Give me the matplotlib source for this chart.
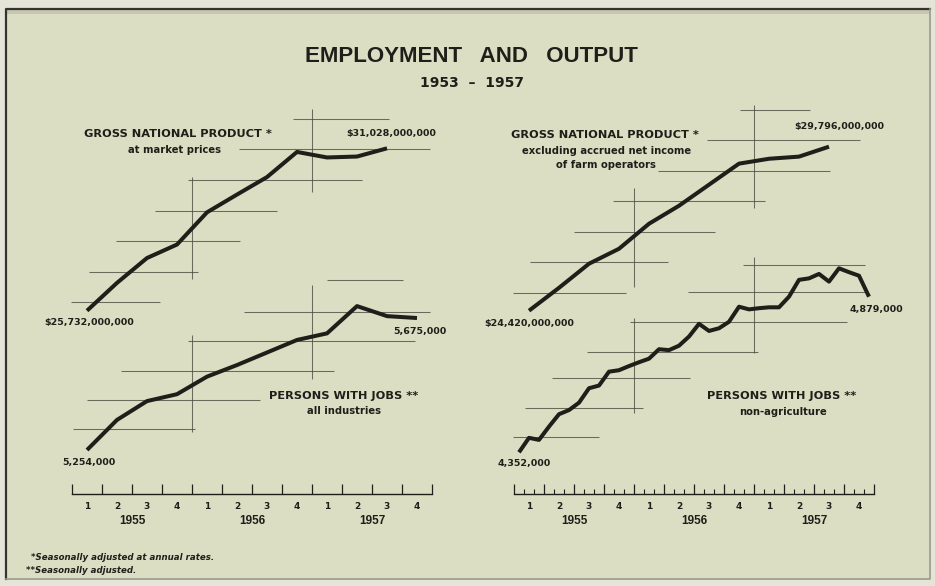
import numpy as np
import matplotlib.pyplot as plt
from matplotlib.patches import Rectangle
from matplotlib.lines import Line2D

W, H = 935, 586

# --------------------------------------------------------------
# Data (GNP in billions of dollars, persons in thousands)
# --------------------------------------------------------------
quarter_labels = ["1", "2", "3", "4"] * 3
year_labels = ["1955", "1956", "1957"]

gnp_market = [25.732, 26.64, 27.45, 27.89, 28.94, 29.52, 30.09, 30.91,
              30.73, 30.76, 31.028]
gnp_nonfarm = [24.42, 25.17, 25.96, 26.45, 27.27, 27.86, 28.55, 29.24,
               29.40, 29.47, 29.796]
jobs_all = [5254, 5350, 5410, 5432, 5488, 5525, 5565, 5605,
            5626, 5713, 5681, 5675]
jobs_nonag = [4352, 4401, 4394, 4439, 4481, 4495, 4520, 4569, 4578, 4625, 4630, 4644,
              4657, 4669, 4701, 4698, 4713, 4744, 4787, 4763, 4772, 4794, 4845, 4836,
              4840, 4843, 4843, 4879, 4936, 4941, 4956, 4930, 4975, 4962, 4950, 4879]

# reference crosshairs: (level, from quarter, to quarter) and (quarter, from level, to level)
gnp_market_h = [(26, -0.03, 2.93), (27, 0.58, 4.21), (28, 1.47, 5.6), (29, 2.77, 6.84),
                (30, 3.86, 9.66), (31, 5.57, 11.93), (32, 7.36, 10.58)]
gnp_market_v = [(4, 26.75, 30.1), (8, 29.6, 32.3)]
gnp_nonfarm_h = [(25, -0.02, 3.73), (26, 0.53, 5.14), (27, 2.0, 6.7), (28, 3.31, 8.37),
                 (29, 4.81, 10.53), (30, 6.42, 11.53), (31, 7.53, 9.87)]
gnp_nonfarm_v = [(4, 25.19, 28.43), (8, 27.78, 31.16)]
jobs_all_h = [(5320, 0.02, 4.1), (5413, 0.49, 6.27), (5506, 1.63, 8.73),
              (5602, 3.88, 11.43), (5695, 5.74, 11.93), (5796, 8.49, 11.04)]
jobs_all_v = [(4, 5312, 5621), (8, 5480, 5780)]
jobs_nonag_h = [(4405, -0.02, 2.84), (4503, 0.37, 4.31), (4605, 1.26, 5.87),
                (4693, 2.44, 8.14), (4794, 3.87, 11.09), (4894, 5.81, 11.76),
                (4986, 7.64, 11.7)]
jobs_nonag_v = [(4, 4484, 4806), (8, 4687, 5014)]

# --------------------------------------------------------------
# Style
# --------------------------------------------------------------
BG = "#dcdec3"
INK = "#1f1f1a"
GRID = "#4d4d42"
QPX = 30.0          # pixels per quarter
LEFT_X0, RIGHT_X0 = 72, 514
AXIS_Y = 493.5

fig = plt.figure(figsize=(W / 100, H / 100), dpi=100)
fig.patch.set_facecolor("#e4e4d8")


def fx(px):
    return px / W


def fy(py):
    return 1 - py / H


# scanned page frame: dark left/top edge, faint right/bottom edge
fig.patches.append(Rectangle((fx(6), fy(579)), 924 / W, 570 / H,
                             transform=fig.transFigure, facecolor=BG,
                             edgecolor="none", zorder=-3))
fig.patches.append(Rectangle((fx(7), fy(14)), 922 / W, 4 / H,
                             transform=fig.transFigure, facecolor="#c6c6b3",
                             edgecolor="none", zorder=-2))
fig.lines.append(Line2D([fx(6), fx(6), fx(930)], [fy(579), fy(9), fy(9)],
                        transform=fig.transFigure, color="#34342d", lw=1.6))
fig.lines.append(Line2D([fx(930), fx(930), fx(6)], [fy(9), fy(579), fy(579)],
                        transform=fig.transFigure, color="#9a9a8c", lw=1.2))


def overlay(x0, ref_val, ref_px, ppu):
    ax = fig.add_axes([0, 0, 1, 1])
    ax.set_xlim(-x0 / QPX, (W - x0) / QPX)
    ax.set_ylim(ref_val - (H - ref_px) / ppu, ref_val + ref_px / ppu)
    ax.axis("off")
    ax.patch.set_alpha(0)
    return ax


def draw_series(ax, x, vals, hgrid, vgrid):
    lv, a, b = zip(*hgrid)
    ax.hlines(lv, a, b, color=GRID, lw=0.75, alpha=0.8)
    qv, lo, hi = zip(*vgrid)
    ax.vlines(qv, lo, hi, color=GRID, lw=0.75, alpha=0.8)
    ax.plot(x, vals, color=INK, lw=2.9, solid_capstyle="butt",
            solid_joinstyle="round", zorder=3)


def value_label(ax, x, y, text, dx, dy):
    ax.annotate(text, (x, y), xytext=(dx, -dy), textcoords="offset pixels",
                ha="center", va="center", fontsize=6.8, fontweight="bold",
                color=INK, family="DejaVu Sans")


qx = np.arange(12) + 0.5
mx = (np.arange(36) + 0.5) / 3

# left: GNP at market prices and persons with jobs, all industries
ax_g1 = overlay(LEFT_X0, 25.732, 310.7, 30.66)
draw_series(ax_g1, qx[:len(gnp_market)], gnp_market, gnp_market_h, gnp_market_v)
value_label(ax_g1, qx[0], gnp_market[0], f"${gnp_market[0] * 1e9:,.0f}", 2, 12)
value_label(ax_g1, qx[len(gnp_market) - 1], gnp_market[-1],
            f"${gnp_market[-1] * 1e9:,.0f}", 4, -15)

ax_j1 = overlay(LEFT_X0, 5254, 450.0, 0.3135)
draw_series(ax_j1, qx, jobs_all, jobs_all_h, jobs_all_v)
value_label(ax_j1, qx[0], jobs_all[0], f"{jobs_all[0] * 1000:,}", 2, 13)
value_label(ax_j1, qx[-1], jobs_all[-1], f"{jobs_all[-1] * 1000:,}", 3, 13)

# right: GNP excluding farm income and persons with jobs, non-agriculture
ax_g2 = overlay(RIGHT_X0, 24.42, 310.7, 30.51)
draw_series(ax_g2, qx[:len(gnp_nonfarm)], gnp_nonfarm, gnp_nonfarm_h, gnp_nonfarm_v)
value_label(ax_g2, qx[0], gnp_nonfarm[0], f"${gnp_nonfarm[0] * 1e9:,.0f}", 0, 13)
value_label(ax_g2, qx[len(gnp_nonfarm) - 1], gnp_nonfarm[-1],
            f"${gnp_nonfarm[-1] * 1e9:,.0f}", 10, -20)

ax_j2 = overlay(RIGHT_X0, 4352, 452.3, 0.2953)
draw_series(ax_j2, mx, jobs_nonag, jobs_nonag_h, jobs_nonag_v)
value_label(ax_j2, mx[0], jobs_nonag[0], f"{jobs_nonag[0] * 1000:,}", 5, 11)
value_label(ax_j2, mx[-1], jobs_nonag[-1], f"{jobs_nonag[-1] * 1000:,}", 7, 13)


# time axes
def time_axis(x0, monthly):
    ax = fig.add_axes([fx(x0), fy(AXIS_Y), fx(12 * QPX), 14 / H])
    ax.set_xlim(0, 12)
    ax.set_ylim(0, 1)
    ax.patch.set_alpha(0)
    for s in ["top", "left", "right"]:
        ax.spines[s].set_visible(False)
    ax.spines["bottom"].set_linewidth(1.0)
    ax.spines["bottom"].set_color(INK)
    ax.set_yticks([])
    ax.set_xticks(np.arange(13))
    ax.set_xticklabels([])
    ax.tick_params(axis="x", direction="in", length=7, width=0.9, color=INK)
    if monthly:
        ax.set_xticks(np.arange(37) / 3, minor=True)
        ax.tick_params(axis="x", which="minor", direction="in", length=3.5,
                       width=0.8, color=INK)
    for i, lab in enumerate(quarter_labels):
        ax.text(i + 0.5, -13 / 14, lab, ha="center", va="center",
                fontsize=6.5, fontweight="bold", color=INK, family="DejaVu Sans")
    for i, lab in enumerate(year_labels):
        ax.text(4 * i + 2, -27 / 14, lab, ha="center", va="center",
                fontsize=8.5, fontweight="bold", color=INK, family="Liberation Sans")
    return ax


time_axis(LEFT_X0, False)
time_axis(RIGHT_X0, True)

# titles and series names
fig.text(fx(471), fy(57), "EMPLOYMENT   AND   OUTPUT", ha="center", va="center",
         fontsize=16, fontweight="bold", color=INK, family="Liberation Sans")
fig.text(fx(472), fy(83), "1953  –  1957", ha="center", va="center",
         fontsize=10, fontweight="bold", color=INK, family="DejaVu Sans")

lab = dict(ha="center", va="center", color=INK, family="DejaVu Sans", fontweight="bold")
fig.text(fx(178), fy(134), "GROSS NATIONAL PRODUCT *", fontsize=8.2, **lab)
fig.text(fx(175), fy(150), "at market prices", fontsize=7.2, **lab)
fig.text(fx(605), fy(135), "GROSS NATIONAL PRODUCT *", fontsize=8.2, **lab)
fig.text(fx(607), fy(150.5), "excluding accrued net income", fontsize=7.2, **lab)
fig.text(fx(606), fy(165), "of farm operators", fontsize=7.2, **lab)
fig.text(fx(344), fy(396), "PERSONS WITH JOBS **", fontsize=8.2, **lab)
fig.text(fx(344), fy(411), "all industries", fontsize=7.2, **lab)
fig.text(fx(782), fy(396), "PERSONS WITH JOBS **", fontsize=8.2, **lab)
fig.text(fx(783), fy(412), "non-agriculture", fontsize=7.2, **lab)

# footnotes
foot = dict(ha="left", va="center", color=INK, family="DejaVu Sans",
            fontweight="bold", style="italic", fontsize=6.2)
fig.text(fx(31), fy(558), "*Seasonally adjusted at annual rates.", **foot)
fig.text(fx(26), fy(570.5), "**Seasonally adjusted.", **foot)

fig.savefig("out.png", dpi=100, facecolor=fig.get_facecolor())
